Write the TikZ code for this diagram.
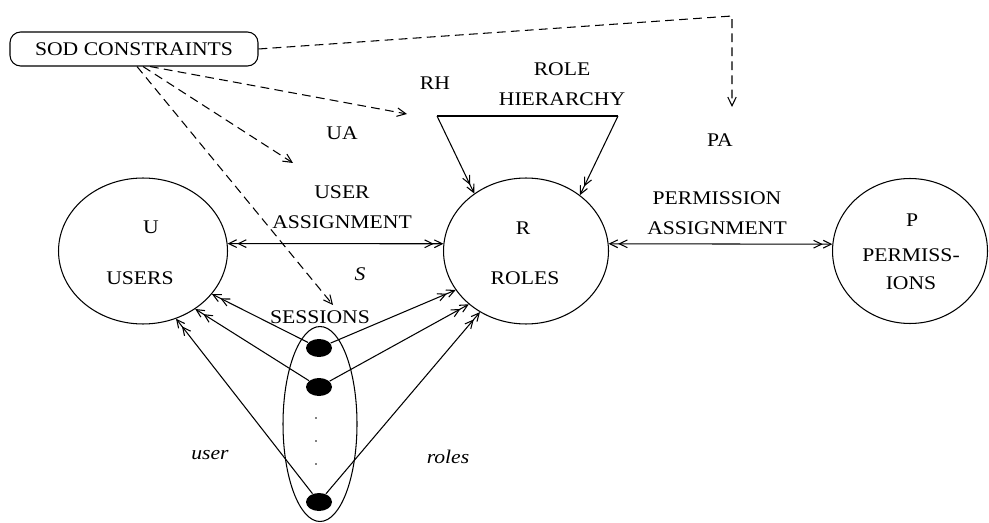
\documentclass[tikz,border=0pt]{standalone}
\usepackage{fontspec}
\setmainfont{Liberation Serif}[FakeStretch=1.12]
\usetikzlibrary{arrows.meta,shapes.geometric}
\tikzset{
	barbs/.tip={Straight Barb[length=4.5pt,width=4.4pt] Straight Barb[length=4.5pt,width=4.4pt]},
	barb/.tip={Straight Barb[length=5pt,width=4.8pt]}
}

\begin{document}
\begin{tikzpicture}[x=0.02cm,y=-0.02cm,line width=0.6pt,
	set/.style={draw,ellipse,inner sep=0pt},
	sdot/.style={fill,ellipse,minimum width=0.52cm,minimum height=0.36cm,inner sep=0pt},
	lbl/.style={inner sep=0pt,align=center,font=\fontsize{11}{17}\selectfont},
	cons/.style={dash pattern=on 5pt off 3pt,-barb}]

			\useasboundingbox (0,0) rectangle (989,523);

			% sets
			\node[set,minimum width=3.38cm,minimum height=2.92cm] (U) at (143,251) {};
			\node[set,minimum width=3.3cm,minimum height=2.92cm] (R) at (526,251) {};
			\node[set,minimum width=3.1cm,minimum height=2.9cm] (P) at (910,251) {};
			\node[set,minimum width=1.48cm,minimum height=3.9cm] (sess) at (320,424) {};

			\node[lbl] (ulbl) at (151,227) {U};
			\node[lbl] (users) at (140,278) {USERS};
			\node[lbl] (rlbl) at (523,228) {R};
			\node[lbl] (roles) at (525,278) {ROLES};
			\node[lbl] (plbl) at (912,220) {P};
			\node[lbl,font=\fontsize{11}{16}\selectfont] (perms) at (911,269) {PERMISS-\\IONS};

			% sessions
			\node[sdot] (d1) at (319,348) {};
			\node[sdot] (d2) at (319,387) {};
			\node[sdot] (d3) at (319,502) {};
			\foreach \y in {418,441,464}
				\fill (316,\y) circle (0.5pt);

			% constraints
			\node[draw,rounded corners=6pt,minimum width=4.96cm,minimum height=0.68cm,lbl] (sod) at (134,49) {SOD CONSTRAINTS};

			\node[lbl] (rh) at (435,83) {RH};
			\node[lbl] (rhier) at (562,84) {ROLE\\HIERARCHY};
			\node[lbl] (ua) at (342,133) {UA};
			\node[lbl] (pa) at (720,140) {PA};
			\node[lbl] (uasg) at (342,207) {USER\\ASSIGNMENT};
			\node[lbl] (pasg) at (717,213) {PERMISSION\\ASSIGNMENT};
			\node[lbl] (s) at (360,274) {\itshape S};
			\node[lbl] (sessions) at (320,317) {SESSIONS};
			\node[lbl] (user) at (210,455) {\itshape user};
			\node[lbl] (rls) at (448,457) {\itshape roles};

			% assignments
			\draw[barbs-barbs] (U.5) -- (R.175);
			\draw[barbs-barbs] (R.5) -- (P.175);

			% role hierarchy
			\coordinate (rhl) at (437,116);
			\coordinate (rhr) at (618,116);
			\draw (rhl) -- (rhr);
			\draw[-barbs] (rhl) -- (R.132);
			\draw[-barbs] (rhr) -- (R.46);

			% user and roles of a session
			\draw[-barbs] (d1) -- (U.-32);
			\draw[-barbs] (d2) -- (U.-48);
			\draw[-barbs] (d3) -- (U.-64);
			\draw[-barbs] (d1) -- (R.-151);
			\draw[-barbs] (d2) -- (R.-137);
			\draw[-barbs] (d3) -- (R.-127);

			% constraint links
			\coordinate (pacorner) at (732,16);
			\coordinate (paend) at (732,107);
			\coordinate (rhend) at (407,114);
			\coordinate (uaend) at (293,163);
			\coordinate (sessend) at (333,305);
			\draw[cons] (sod.east) -- (pacorner) -- (paend);
			\draw[cons] ([xshift=0.32cm]sod.south) -- (rhend);
			\draw[cons] ([xshift=0.18cm]sod.south) -- (uaend);
			\draw[cons] ([xshift=0.06cm]sod.south) -- (sessend);
		\end{tikzpicture}
\end{document}
